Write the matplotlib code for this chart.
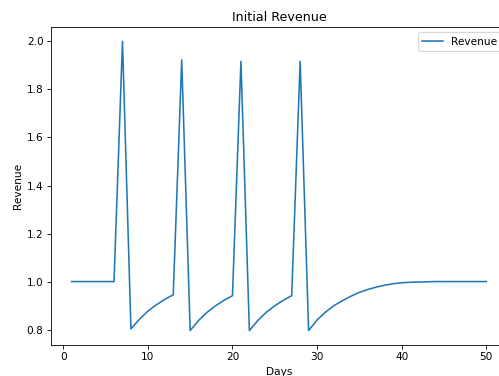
import numpy as np
import matplotlib
matplotlib.use("Agg")
import matplotlib.pyplot as plt

# Days and revenue
days = list(range(1, 51))
revenue = [
    1.0, 1.0, 1.0, 1.0, 1.0, 1.0,          # 1-6
    2.0, 0.803,                            # 7-8
    0.843, 0.877, 0.903, 0.926, 0.945,     # 9-13
    1.923, 0.796,                          # 14-15
    0.838, 0.872, 0.899, 0.922, 0.941,     # 16-20
    1.917, 0.796,                          # 21-22
    0.838, 0.872, 0.899, 0.922, 0.941,     # 23-27
    1.917, 0.796,                          # 28-29
    0.84, 0.873, 0.9, 0.92, 0.939,         # 30-34
    0.955, 0.967, 0.977, 0.985, 0.991,     # 35-39
    0.995, 0.997, 0.998, 0.999, 1.0,       # 40-44
    1.0, 1.0, 1.0, 1.0, 1.0, 1.0,          # 45-50
]

# the reference is a scaled-down render, so use a lower dpi
dpi = 76
fig = plt.figure(figsize=(499 / dpi, 376 / dpi), dpi=dpi)
ax = fig.add_axes([51 / 499, 31 / 376, 456 / 499, 318 / 376])

ax.plot(days, revenue, label="Revenue")
ax.set_title("Initial Revenue")
ax.set_xlabel("Days")
ax.set_ylabel("Revenue")
ax.legend(loc="upper right")

fig.savefig("out.png", dpi=dpi)
